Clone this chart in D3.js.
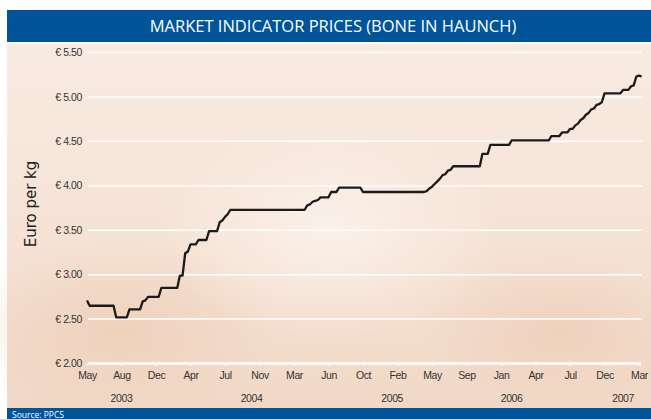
<!DOCTYPE html>
<html>
<head>
<meta charset="utf-8">
<script src="https://cdn.jsdelivr.net/npm/d3@7"></script>
<style>
  html, body { margin: 0; padding: 0; background: #fff; }
  svg { display: block; }
</style>
</head>
<body>
<div id="chart"></div>
<script>
// Market indicator price, weekly (week 0 = first week of May 2003)
const weeks = [0, 1, 10, 11, 15, 16, 20, 21, 22, 23, 27, 28, 34, 35, 36, 37, 38, 39, 41, 42, 45, 46, 49, 50, 51, 52, 53, 54,
  82, 83, 84, 85, 86, 87, 88, 91, 92, 94, 95, 103, 104, 127, 128, 129, 130, 131, 132, 133, 134, 135, 136, 137, 138,
  148, 149, 151, 152, 159, 160, 174, 175, 178, 179, 181, 182, 183, 184, 185, 186, 187, 188, 189, 190, 191, 192, 193, 194, 195,
  201, 202, 204, 205, 206, 207, 208, 209];
const prices = [2.71, 2.65, 2.65, 2.52, 2.52, 2.61, 2.61, 2.70, 2.71, 2.75, 2.75, 2.85, 2.85, 2.99, 2.99, 3.24, 3.26, 3.34, 3.34, 3.39, 3.39, 3.49, 3.49, 3.59, 3.61, 3.65, 3.68, 3.73,
  3.73, 3.78, 3.79, 3.82, 3.83, 3.84, 3.87, 3.87, 3.93, 3.93, 3.98, 3.98, 3.93, 3.93, 3.94, 3.97, 3.99, 4.02, 4.05, 4.08, 4.12, 4.13, 4.17, 4.18, 4.22,
  4.22, 4.36, 4.36, 4.46, 4.46, 4.51, 4.51, 4.56, 4.56, 4.60, 4.60, 4.64, 4.64, 4.68, 4.70, 4.74, 4.76, 4.80, 4.82, 4.86, 4.87, 4.91, 4.92, 4.94, 5.04,
  5.04, 5.08, 5.08, 5.12, 5.13, 5.23, 5.24, 5.23];

// x axis labels, one every 13 weeks
const monthLabels = ["May", "Aug", "Dec", "Apr", "Jul", "Nov", "Mar", "Jun", "Oct", "Feb", "May", "Sep", "Jan", "Apr", "Jul", "Dec", "Mar"];
const tickWeeks = monthLabels.map((m, i) => i * 13);
const yearLabels = ["2003", "2004", "2005", "2006", "2007"];
const yearWeeks = [13, 62, 115, 160, 202];
const yTicks = [2.00, 2.50, 3.00, 3.50, 4.00, 4.50, 5.00, 5.50];

const width = 651, height = 419;
const blue = "#00549a";

const svg = d3.select("#chart").append("svg")
  .attr("width", width)
  .attr("height", height);

const defs = svg.append("defs");
const bg = defs.append("linearGradient").attr("id", "bg")
  .attr("x1", 0).attr("y1", 0).attr("x2", 0).attr("y2", 1);
bg.append("stop").attr("offset", "0%").attr("stop-color", "#f8ebe2");
bg.append("stop").attr("offset", "55%").attr("stop-color", "#f5e2d5");
bg.append("stop").attr("offset", "100%").attr("stop-color", "#f1d8c6");

const glow = defs.append("radialGradient").attr("id", "glow");
glow.append("stop").attr("offset", "0%").attr("stop-color", "#fcf4ee").attr("stop-opacity", 0.8);
glow.append("stop").attr("offset", "100%").attr("stop-color", "#fcf4ee").attr("stop-opacity", 0);

const warm = defs.append("radialGradient").attr("id", "warm");
warm.append("stop").attr("offset", "0%").attr("stop-color", "#edcdb6").attr("stop-opacity", 0.7);
warm.append("stop").attr("offset", "100%").attr("stop-color", "#edcdb6").attr("stop-opacity", 0);

// title bar
svg.append("rect")
  .attr("x", 7).attr("y", 10)
  .attr("width", width - 7).attr("height", 32)
  .attr("fill", blue);
svg.append("text")
  .attr("x", 333).attr("y", 26)
  .attr("dy", "0.36em")
  .attr("text-anchor", "middle")
  .attr("fill", "#fff")
  .style("font-family", "'Open Sans', sans-serif")
  .style("font-size", "16.5px")
  .text("MARKET INDICATOR PRICES (BONE IN HAUNCH)");

// chart background
svg.append("rect")
  .attr("x", 7).attr("y", 44)
  .attr("width", width - 7).attr("height", 364)
  .attr("fill", "url(#bg)");
svg.append("ellipse")
  .attr("cx", 120).attr("cy", 330).attr("rx", 160).attr("ry", 90)
  .attr("fill", "url(#warm)");
svg.append("ellipse")
  .attr("cx", 560).attr("cy", 330).attr("rx", 140).attr("ry", 80)
  .attr("fill", "url(#warm)");
svg.append("ellipse")
  .attr("cx", 330).attr("cy", 230).attr("rx", 170).attr("ry", 110)
  .attr("fill", "url(#glow)");

// source bar
svg.append("rect")
  .attr("x", 7).attr("y", 408)
  .attr("width", width - 7).attr("height", height - 408)
  .attr("fill", blue);
svg.append("text")
  .attr("x", 12).attr("y", 415)
  .attr("dy", "0.36em")
  .attr("fill", "#fff")
  .style("font-family", "'Open Sans', sans-serif")
  .style("font-size", "8.5px")
  .text("Source: PPCS");

// scales
const x = d3.scaleLinear().domain([0, 208]).range([87, 639]);
const y = d3.scaleLinear().domain([2, 5.5]).range([363.5, 52.5]);

const font = "'Liberation Sans', Arial, sans-serif";

// gridlines
svg.append("g")
  .selectAll("line")
  .data(yTicks.slice(1))
  .join("line")
  .attr("x1", 88).attr("x2", 642)
  .attr("y1", d => y(d)).attr("y2", d => y(d))
  .attr("stroke", "#fff")
  .attr("stroke-width", 1.5);

// y labels
svg.append("g")
  .selectAll("text")
  .data(yTicks)
  .join("text")
  .attr("x", 82)
  .attr("y", d => y(d))
  .attr("dy", "0.35em")
  .attr("text-anchor", "end")
  .attr("fill", "#333")
  .style("font-family", font)
  .style("font-size", "10.5px")
  .style("letter-spacing", "-0.4px")
  .text(d => "€ " + d3.format(".2f")(d));

// y title
svg.append("text")
  .attr("transform", `translate(36, 204) rotate(-90)`)
  .attr("text-anchor", "middle")
  .attr("fill", "#222")
  .style("font-family", "'DejaVu Sans', sans-serif")
  .style("font-size", "15px")
  .text("Euro per kg");

// x axis
const xAxis = d3.axisBottom(x)
  .tickValues(tickWeeks)
  .tickSize(2)
  .tickPadding(6)
  .tickFormat((d, i) => monthLabels[i]);

const ax = svg.append("g")
  .attr("transform", `translate(0, ${y(2)})`)
  .call(xAxis);
ax.select(".domain")
  .attr("d", `M${x(0) + 1},0H${x(208) + 2}`)
  .attr("stroke", "#fff")
  .attr("stroke-width", 2.5);
ax.selectAll(".tick line")
  .attr("stroke", "#fff")
  .attr("stroke-width", 2.5);
ax.selectAll(".tick text")
  .attr("fill", "#333")
  .style("font-family", font)
  .style("font-size", "10.5px")
  .style("letter-spacing", "-0.4px");

// year labels
svg.append("g")
  .selectAll("text")
  .data(yearLabels)
  .join("text")
  .attr("x", (d, i) => x(yearWeeks[i]))
  .attr("y", 398)
  .attr("dy", "0.35em")
  .attr("text-anchor", "middle")
  .attr("fill", "#333")
  .style("font-family", font)
  .style("font-size", "10.5px")
  .style("letter-spacing", "-0.4px")
  .text(d => d);

// price line
const line = d3.line()
  .x((d, i) => x(weeks[i]))
  .y(d => y(d));

svg.append("path")
  .datum(prices)
  .attr("fill", "none")
  .attr("stroke", "#1b1b1b")
  .attr("stroke-width", 2.3)
  .attr("stroke-linejoin", "round")
  .attr("d", line);
</script>
</body>
</html>
